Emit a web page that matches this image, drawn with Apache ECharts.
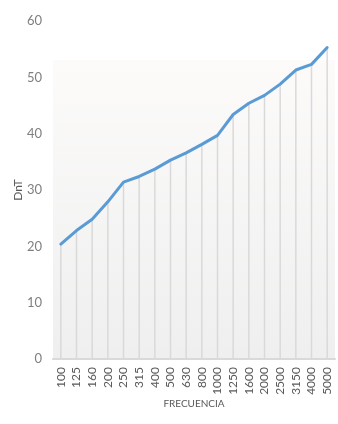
<!DOCTYPE html>
<html>
<head>
<meta charset="utf-8">
<script src="https://cdn.jsdelivr.net/npm/echarts@6/dist/echarts.min.js"></script>
<style>
  html, body { margin: 0; padding: 0; background: #fff; }
  #chart { width: 338px; height: 424px; }
</style>
</head>
<body>
<div id="chart"></div>
<script>
// Frecuencias (Hz)
const frecuencias = ['100', '125', '160', '200', '250', '315', '400', '500', '630', '800',
  '1000', '1250', '1600', '2000', '2500', '3150', '4000', '5000'];
// Valores DnT (dB)
const dnt = [20.4, 22.8, 24.8, 27.9, 31.4, 32.4, 33.7, 35.3, 36.6, 38.1,
  39.7, 43.4, 45.4, 46.8, 48.8, 51.3, 52.3, 55.3];

const chart = echarts.init(document.getElementById('chart'), null, { renderer: 'canvas' });

const fuente = 'Lato, "DejaVu Sans", sans-serif';

const option = {
  animation: false,
  grid: {
    left: 53,
    right: 3,
    top: 21,
    bottom: 65,
    outerBoundsMode: 'none',
    show: true,
    borderWidth: 0,
    // fondo degradado del área de trazado (empieza un poco por debajo del 60)
    backgroundColor: {
      type: 'linear', x: 0, y: 0, x2: 0, y2: 1,
      colorStops: [
        { offset: 0, color: '#ffffff' },
        { offset: 0.114, color: '#ffffff' },
        { offset: 0.116, color: '#fcfbfa' },
        { offset: 1, color: '#efefef' }
      ]
    }
  },
  xAxis: {
    type: 'category',
    data: frecuencias,
    boundaryGap: true,
    name: 'FRECUENCIA',
    nameLocation: 'middle',
    nameGap: 40,
    nameMoveOverlap: false,
    nameTextStyle: { color: '#595959', fontSize: 10, fontFamily: fuente },
    axisLine: { lineStyle: { color: '#d9d9d9', width: 2 } },
    axisTick: { show: false },
    axisLabel: {
      rotate: 90,
      interval: 0,
      margin: 8,
      color: '#595959',
      fontSize: 12,
      fontFamily: fuente
    },
    splitLine: { show: false }
  },
  yAxis: {
    type: 'value',
    min: 0,
    max: 60,
    interval: 10,
    name: 'DnT',
    nameLocation: 'middle',
    nameGap: 29,
    nameMoveOverlap: false,
    nameRotate: 90,
    nameTextStyle: { color: '#595959', fontSize: 12, fontFamily: fuente },
    axisLine: { show: false },
    axisTick: { show: false },
    axisLabel: { color: '#7f7f7f', fontSize: 13, margin: 11, fontFamily: fuente },
    splitLine: { show: false }
  },
  series: [
    {
      // líneas de caída hasta el eje
      name: 'caida',
      type: 'bar',
      data: dnt,
      barWidth: 1.5,
      itemStyle: { color: '#d9d9d9' },
      silent: true
    },
    {
      name: 'DnT',
      type: 'line',
      data: dnt,
      symbol: 'none',
      lineStyle: { color: '#5b9bd5', width: 3, cap: 'round', join: 'round' },
      z: 3
    }
  ]
};

chart.setOption(option);
</script>
</body>
</html>
